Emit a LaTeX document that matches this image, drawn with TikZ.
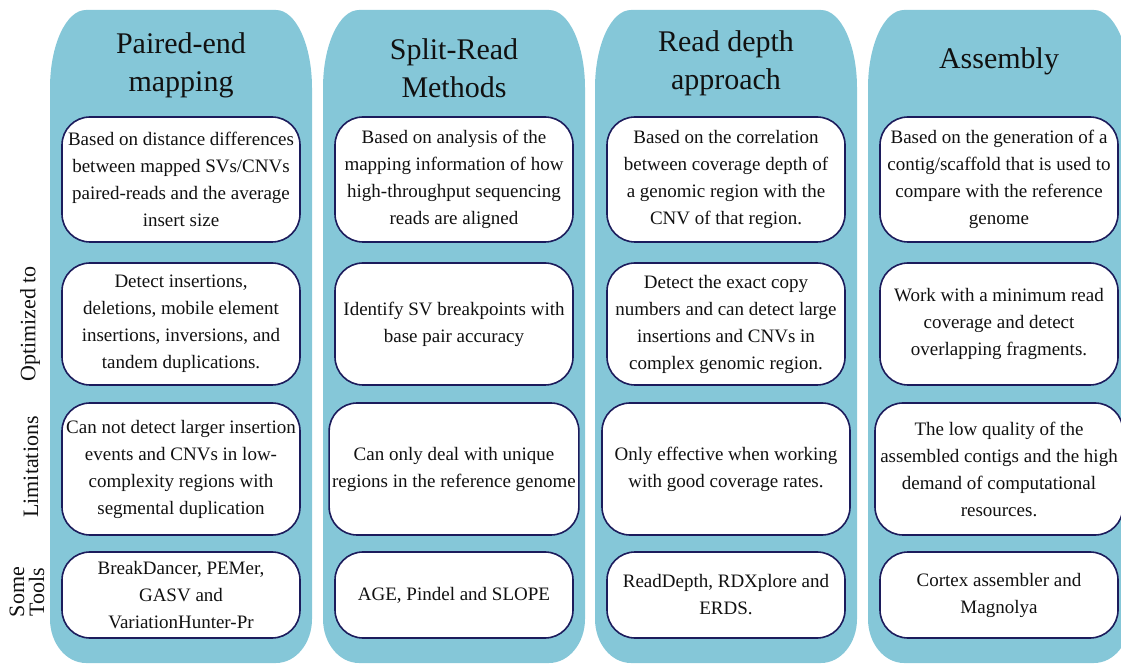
\documentclass[tikz,border=0pt]{standalone}
\usepackage{fontspec}
\setmainfont{Liberation Serif}
\definecolor{panel}{HTML}{85C7D8}
\definecolor{rim}{HTML}{1C1C5C}
\definecolor{ink}{HTML}{111111}
\tikzset{
  box/.style={draw=rim, fill=white, line width=1.6pt, rounded corners=28pt, align=center,
    text=ink, minimum width=238pt, inner xsep=3pt, font=\fontsize{19}{27}\selectfont},
  ttl/.style={align=center, text=ink, font=\fontsize{30}{38}\selectfont},
  side/.style={rotate=90, align=center, text=ink, font=\fontsize{22}{20}\selectfont},
}
\newcommand{\method}[9]{
  \begin{scope}[xshift=#1pt]
    \fill[panel] (0,45) -- (0,576) arc[start angle=180, end angle=90, x radius=36pt, y radius=78pt]
      -- (226,654) arc[start angle=90, end angle=0, x radius=36pt, y radius=78pt]
      -- (262,45) arc[start angle=0, end angle=-90, x radius=36pt, y radius=44pt]
      -- (36,1) arc[start angle=270, end angle=180, x radius=36pt, y radius=44pt] -- cycle;
    \node[ttl] (#2-ttl) at (131,#9) {#3};
    \node[box, minimum height=125pt] (#2-base) at (131,484.5) {#4};
    \node[box, minimum height=122pt] (#2-opt) at (131,340) {#5};
    \node[box, minimum height=132pt, minimum width=#8pt] (#2-lim) at (131,195) {#6};
    \node[box, minimum height=86pt] (#2-tools) at (131,69) {#7};
  \end{scope}
}

\begin{document}
\begin{tikzpicture}[x=1pt, y=1pt]
  \useasboundingbox (0,0) rectangle (1121,664);
  \clip (0,0) rectangle (1121,664);
  % row labels
  \node[side] (opt) at (30,340) {Optimized to};
  \node[side] (lim) at (31,197) {Limitations};
  \node[side] (tools) at (27,72) {Some\\Tools};

  \method{50}{pem}{Paired-end\\mapping}
    {Based on distance differences\\between mapped SVs/CNVs\\paired-reads and the average\\insert size}
    {Detect insertions,\\deletions, mobile element\\insertions, inversions, and\\tandem duplications.}
    {Can not detect larger insertion\\events and CNVs in low-\\complexity regions with\\segmental duplication}
    {BreakDancer, PEMer,\\GASV and\\VariationHunter-Pr}{238}{599}

  \method{323}{srm}{Split-Read\\Methods}
    {Based on analysis of the\\mapping information of how\\high-throughput sequencing\\reads are aligned}
    {Identify SV breakpoints with\\base pair accuracy}
    {Can only deal with unique\\regions in the reference genome}
    {AGE, Pindel and SLOPE}{247}{596}

  \method{595}{rda}{Read depth\\approach}
    {Based on the correlation\\between coverage depth of\\a genomic region with the\\CNV of that region.}
    {Detect the exact copy\\numbers and can detect large\\insertions and CNVs in\\complex genomic region.}
    {Only effective when working\\with good coverage rates.}
    {ReadDepth, RDXplore and\\ERDS.}{248}{601}

  \method{868}{asm}{Assembly}
    {Based on the generation of a\\contig/scaffold that is used to\\compare with the reference\\genome}
    {Work with a minimum read\\coverage and detect\\overlapping fragments.}
    {The low quality of the\\assembled contigs and the high\\demand of computational\\resources.}
    {Cortex assembler and\\Magnolya}{248}{603}
\end{tikzpicture}
\end{document}
